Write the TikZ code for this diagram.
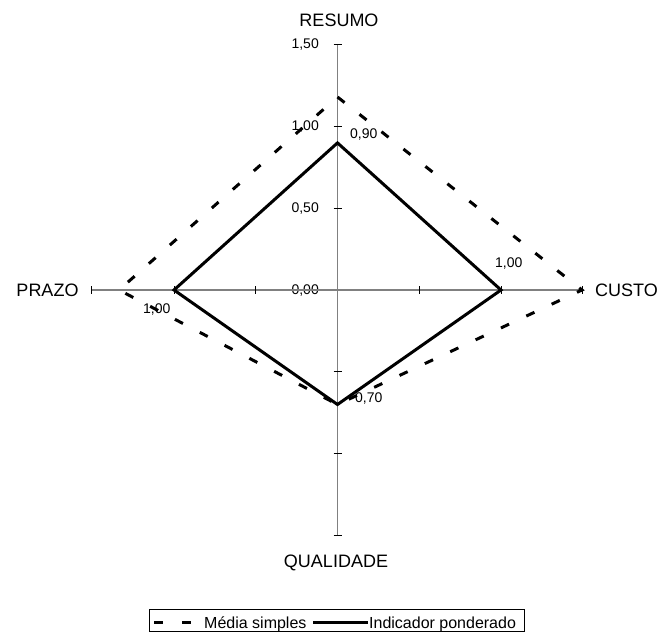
\documentclass[tikz,border=0pt]{standalone}
\usepackage{fontspec}
\setmainfont{Liberation Sans}
\begin{document}
\begin{tikzpicture}[x=1pt,y=-1pt,
  axisline/.style={draw={rgb,255:red,128;green,128;blue,128},line width=1.2pt},
  tickmark/.style={draw=black,line width=1pt},
  catlabel/.style={font=\fontsize{18}{20}\selectfont,inner sep=0pt,anchor=base},
  ticklabel/.style={font=\fontsize{14}{16}\selectfont,inner sep=0pt,anchor=base east},
  vallabel/.style={font=\fontsize{14}{16}\selectfont,inner sep=0pt,anchor=base west},
  legendtext/.style={font=\fontsize{16}{18}\selectfont,inner sep=0pt,anchor=base west},
  mediaserie/.style={draw=black,line width=3pt,dash pattern=on 9pt off 19pt},
  pondserie/.style={draw=black,line width=3pt,line join=miter}]
\useasboundingbox (0,0) rectangle (662,632);
% category labels
\node[catlabel] (resumo) at (339,26) {RESUMO};
\node[catlabel] (prazo) at (47.5,296.5) {PRAZO};
\node[catlabel] (custo) at (626.5,296.5) {CUSTO};
\node[catlabel] (qualidade) at (336,567) {QUALIDADE};
% scale labels
\node[ticklabel] (l150) at (319,48.5) {1,50};
\node[ticklabel] (l100) at (319,130.5) {1,00};
\node[ticklabel] (l050) at (319,212.5) {0,50};
\node[ticklabel] (l000) at (319,294.5) {0,00};
% value labels
\node[vallabel] (v090) at (350,138) {0,90};
\node[vallabel] (v100r) at (495,267) {1,00};
\node[vallabel] (v100l) at (143,313) {1,00};
\node[vallabel] (v070) at (355,402) {0,70};
% axes
\coordinate (c) at (337.5,290);
\coordinate (atop) at (337.5,44.75);
\coordinate (abot) at (337.5,535.25);
\coordinate (aleft) at (91,290);
\coordinate (aright) at (582,290);
\draw[axisline] (atop) -- (abot);
\draw[axisline] (aleft) -- (aright);
\foreach \t in {44.75,126.5,208.25,371.75,453.5,535.25}
  \draw[tickmark] (333.5,\t) -- (341.5,\t);
\foreach \t in {91,174,255.75,419.25,501,582}
  \draw[tickmark] (\t,286) -- (\t,294);
% series vertices
\coordinate (mt) at (337.5,97);
\coordinate (mr) at (582,290);
\coordinate (mb) at (337.5,404.5);
\coordinate (ml) at (119,290);
\coordinate (pt) at (337.5,142.9);
\coordinate (pr) at (501,290);
\coordinate (pb) at (337.5,404.5);
\coordinate (pl) at (174,290);
\draw[mediaserie] (mt) -- (mr) -- (mb) -- (ml) -- cycle;
\draw[pondserie] (pt) -- (pr) -- (pb) -- (pl) -- cycle;
% legend
\draw[draw=black,line width=0.8pt] (149,609) rectangle (524,631.5);
\coordinate (lm1) at (154,622.5);
\coordinate (lm2) at (191,622.5);
\coordinate (lp1) at (313,622.5);
\coordinate (lp2) at (368,622.5);
\draw[mediaserie] (lm1) -- (lm2);
\draw[pondserie] (lp1) -- (lp2);
\node[legendtext] (legm) at (204,628.5) {Média simples};
\node[legendtext] (legp) at (369,628.5) {Indicador ponderado};
\end{tikzpicture}
\end{document}
